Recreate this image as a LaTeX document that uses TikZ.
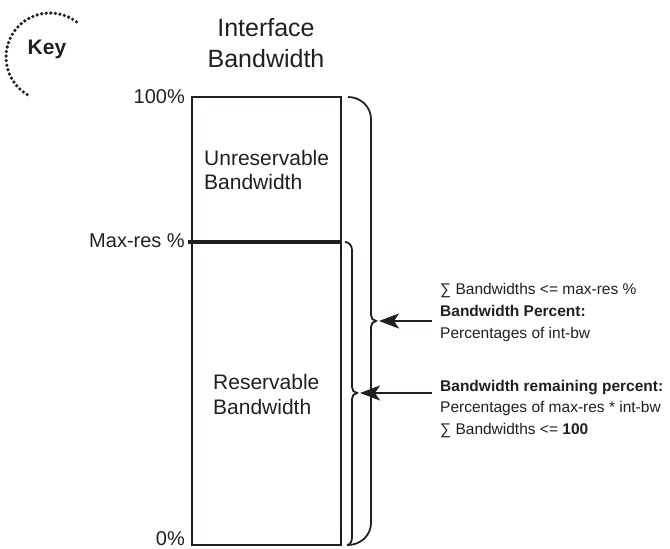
\documentclass[tikz,border=0pt]{standalone}
\usepackage{fontspec}
\setmainfont{Liberation Sans}
\usepackage{xcolor}
\usetikzlibrary{positioning,arrows.meta}
\definecolor{ink}{HTML}{231F20}

\begin{document}
\begin{tikzpicture}[
  x=1pt, y=1pt, color=ink, >={Stealth[length=20pt,width=15pt,inset=5pt]},
  lbl/.style={inner sep=0pt,font=\fontsize{20}{24}\selectfont,anchor=base east},
  inlbl/.style={inner sep=0pt,font=\fontsize{21}{25}\selectfont,anchor=base west},
  ttl/.style={inner sep=0pt,font=\fontsize{25}{30}\selectfont,anchor=base},
  note/.style={inner sep=0pt,font=\fontsize{15.5}{19}\selectfont,anchor=base west},
  brace/.style={line width=1.8pt},
  pointer/.style={->,line width=2.2pt},
  keydots/.style={line width=3.6pt,line cap=round,dash pattern=on 0pt off 4.6pt}
]
\useasboundingbox (0,0) rectangle (670,549);

% key mark
\draw[keydots] (50,492) ++(53:44) arc[start angle=53,end angle=240,radius=44];
\node[inner sep=0pt,anchor=base,font=\bfseries\fontsize{21}{25}\selectfont] (key) at (47,494) {Key};

% title
\node[ttl] (ttlA) at (266,512) {Interface};
\node[ttl] (ttlB) at (266,481) {Bandwidth};

% the bandwidth column
\coordinate (bl) at (192,4);
\coordinate (tr) at (341,452);
\draw[line width=2.5pt] (bl) rectangle (tr);
\draw[line width=3.5pt] (188,307) coordinate (mrL) -- (341,307) coordinate (mrR);

\node[lbl] (full) at (185,445) {100\%};
\node[lbl] (maxres) at (185,301) {Max-res \%};
\node[lbl] (zero) at (185,3) {0\%};

\node[inlbl] (unresA) at (204,383) {Unreservable};
\node[inlbl] (unresB) at (204,359) {Bandwidth};
\node[inlbl] (resA) at (213,159) {Reservable};
\node[inlbl] (resB) at (213,134) {Bandwidth};

% braces
\coordinate (tipA) at (376,228);
\coordinate (tipB) at (357,156);
\draw[brace] (348,452) to[out=0,in=90] (371,430) -- (371,234)
  to[out=-90,in=180] (tipA) to[out=180,in=90] (371,222) -- (371,26)
  to[out=-90,in=0] (348,4);
\draw[brace] (345,307) to[out=0,in=90] (352,299) -- (352,162)
  to[out=-90,in=180] (tipB) to[out=180,in=90] (352,150) -- (352,12)
  to[out=-90,in=0] (347,4);

% notes
\node[note] (sumA) at (440,254) {∑ Bandwidths <= max-res \%};
\node[note,font=\bfseries\fontsize{15.5}{19}\selectfont] (pct) at (440,232) {Bandwidth Percent:};
\node[note] (pctTxt) at (440,210) {Percentages of int-bw};
\node[note,font=\bfseries\fontsize{15.5}{19}\selectfont] (rem) at (440,157) {Bandwidth remaining percent:};
\node[note] (remTxt) at (440,136) {Percentages of max-res * int-bw};
\node[note] (sumB) at (440,114) {∑ Bandwidths <= \textbf{100}};

\coordinate (arrA) at (432,228);
\coordinate (arrB) at (432,156);
\draw[pointer] (arrA) -- ([xshift=3pt]tipA);
\draw[pointer] (arrB) -- ([xshift=3pt]tipB);
\end{tikzpicture}
\end{document}
